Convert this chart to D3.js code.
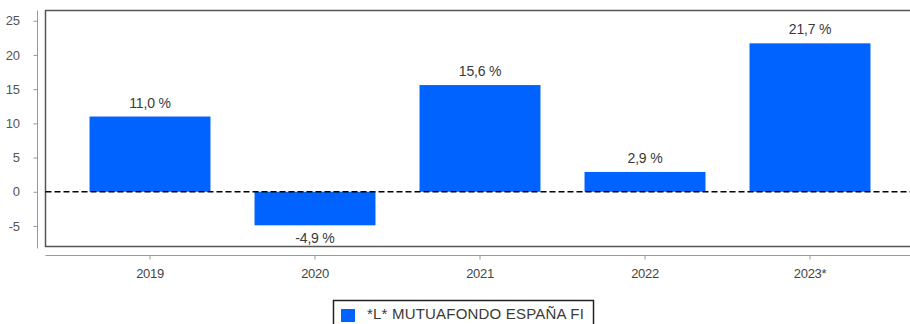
<!DOCTYPE html>
<html>
<head>
<meta charset="utf-8">
<script src="https://cdn.jsdelivr.net/npm/d3@7"></script>
<style>
  html, body { margin: 0; padding: 0; background: #fff; }
  svg { display: block; font-family: "Liberation Sans", Arial, sans-serif; }
</style>
</head>
<body>
<svg id="chart" width="910" height="324"></svg>
<script>
// Annual returns of the fund, in percent
const years = ["2019", "2020", "2021", "2022", "2023*"];
const returns = [11.0, -4.9, 15.6, 2.9, 21.7];
const yTicks = [-5, 0, 5, 10, 15, 20, 25];
const seriesName = "*L* MUTUAFONDO ESPAÑA FI";

const barColor = "#0062ff";
const textColor = "#3a3a3a";

const svg = d3.select("#chart");

const frame = { left: 45.5, top: 10.5, right: 912, bottom: 246.5 };

const y = d3.scaleLinear().domain([-8, 26.5]).range([frame.bottom, frame.top]);
const x = d3.scaleBand()
  .domain(years)
  .range([67.5, 892.5])
  .paddingInner(0.267)
  .paddingOuter(0.1335);

const data = years.map((yr, i) => ({ year: yr, value: returns[i] }));

// Plot frame
svg.append("rect")
  .attr("x", frame.left).attr("y", frame.top)
  .attr("width", frame.right - frame.left)
  .attr("height", frame.bottom - frame.top)
  .attr("fill", "none")
  .attr("stroke", "#555")
  .attr("stroke-width", 1.5);

// Bars
svg.append("g").selectAll("rect")
  .data(data)
  .join("rect")
  .attr("x", d => x(d.year))
  .attr("width", x.bandwidth())
  .attr("y", d => y(Math.max(0, d.value)))
  .attr("height", d => Math.abs(y(d.value) - y(0)))
  .attr("fill", barColor);

// Zero reference line
svg.append("line")
  .attr("x1", frame.left).attr("x2", frame.right)
  .attr("y1", y(0)).attr("y2", y(0))
  .attr("stroke", "#000")
  .attr("stroke-width", 1.6)
  .attr("stroke-dasharray", "6,3");

// Value labels (decimal comma, plain hyphen for negatives)
const fmt = v => d3.format(".1f")(v).replace("−", "-").replace(".", ",") + " %";
svg.append("g").selectAll("text")
  .data(data)
  .join("text")
  .attr("x", d => x(d.year) + x.bandwidth() / 2)
  .attr("y", d => d.value >= 0 ? y(d.value) - 9 : y(d.value) + 18)
  .attr("text-anchor", "middle")
  .attr("font-size", 14)
  .attr("letter-spacing", -0.2)
  .attr("fill", textColor)
  .text(d => fmt(d.value));

// Y axis, offset to the left of the frame
const yAxis = d3.axisLeft(y)
  .tickValues(yTicks)
  .tickFormat(d => String(d))
  .tickSize(4)
  .tickPadding(14);
const gy = svg.append("g")
  .attr("transform", "translate(37.5,0)")
  .call(yAxis);
gy.select(".domain")
  .attr("d", `M0,${frame.top}V${frame.bottom + 2}`)
  .attr("stroke", "#999");
gy.selectAll(".tick line").attr("stroke", "#999");
gy.selectAll(".tick text")
  .attr("font-size", 13)
  .attr("letter-spacing", -0.4)
  .attr("font-family", "'Liberation Sans', Arial, sans-serif")
  .attr("fill", "#555");

// X axis, offset below the frame
const xAxis = d3.axisBottom(x).tickSize(4).tickPadding(9);
const gx = svg.append("g")
  .attr("transform", "translate(0,255.5)")
  .call(xAxis);
gx.select(".domain")
  .attr("d", `M${frame.left},0H${frame.right}`)
  .attr("stroke", "#999");
gx.selectAll(".tick line").attr("stroke", "#999");
gx.selectAll(".tick text")
  .attr("font-size", 13)
  .attr("letter-spacing", -0.3)
  .attr("font-family", "'Liberation Sans', Arial, sans-serif")
  .attr("fill", "#444");

// Legend
const legend = svg.append("g");
legend.append("rect")
  .attr("x", 333.5).attr("y", 300.5)
  .attr("width", 260).attr("height", 30)
  .attr("fill", "#fff")
  .attr("stroke", "#222")
  .attr("stroke-width", 1.5);
legend.append("rect")
  .attr("x", 341).attr("y", 309)
  .attr("width", 14).attr("height", 13)
  .attr("fill", barColor);
legend.append("text")
  .attr("x", 367).attr("y", 318.5)
  .attr("font-size", 15)
  .attr("letter-spacing", 0.2)
  .attr("fill", textColor)
  .text(seriesName);
</script>
</body>
</html>
